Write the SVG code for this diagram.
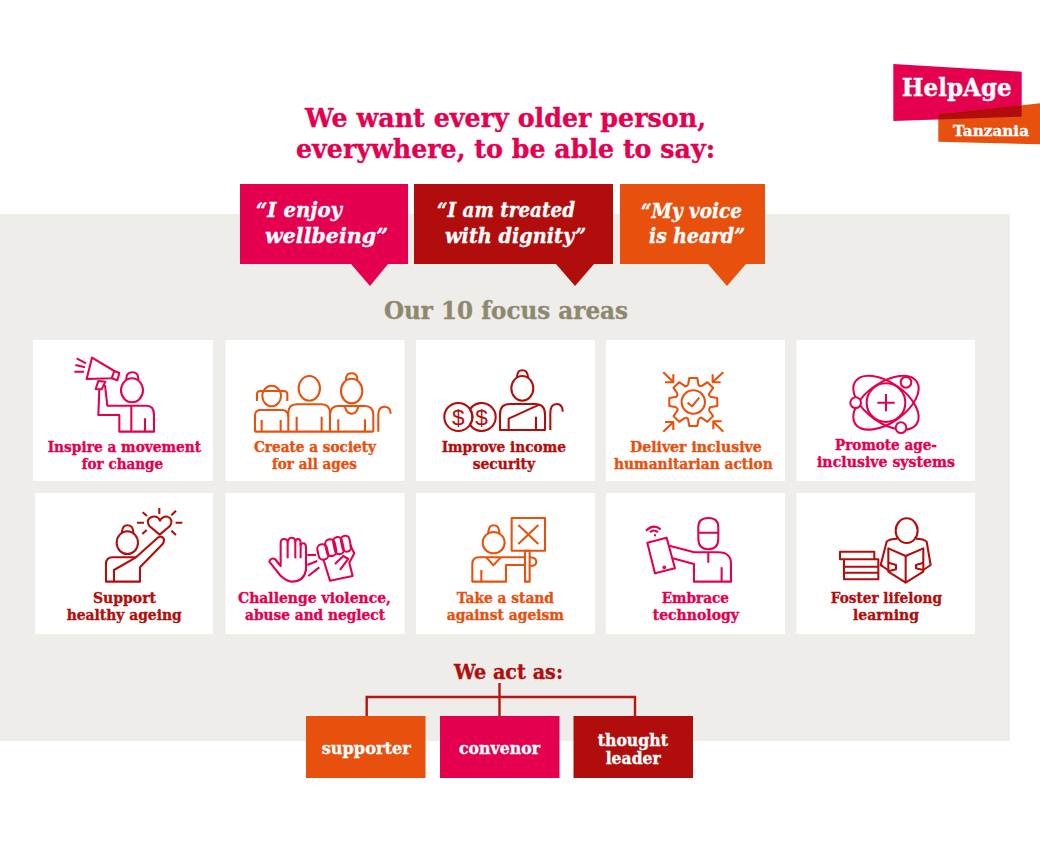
<svg xmlns="http://www.w3.org/2000/svg" xmlns:xlink="http://www.w3.org/1999/xlink" width="1040" height="844" viewBox="0 0 1040 844">
<style>
text{font-family:"DejaVu Serif","Liberation Serif",serif;font-weight:700;stroke-width:.35}
.crim{fill:#e4004f}.red{fill:#b20d0d}.org{fill:#e8500e}.wht{fill:#fff}
text.crim{stroke:#e4004f}text.red{stroke:#b20d0d}text.org{stroke:#e8500e}text.wht,text.it,text.box{stroke:#fff}
.card{fill:#fff}
.lab{font-size:15px}
.it{font-style:italic;font-size:21px;fill:#fff}
.ic{fill:none;stroke-width:6.2;stroke-linejoin:round;stroke-linecap:butt}
.sc{stroke:#e4004f}.sr{stroke:#b20d0d}.so{stroke:#e8500e}
.box{font-size:16.5px;fill:#fff}
text.dollar{font-family:"Liberation Sans",sans-serif;font-weight:400;font-size:68px;fill:#b20d0d;stroke:none}
</style>
<defs>
<path id="gt" d="M-16,-50 L-12,-72 H12 L16,-50 L24,-46.7"/>
</defs>
<rect width="1040" height="844" fill="#fff"/>
<rect id="panel" x="0" y="214" width="1010" height="527" fill="#eeede9"/>

<g id="logo">
<polygon class="crim" points="893.3,64 1021.7,71.7 1021.7,116.7 893.3,121"/>
<polygon class="org" points="938.3,114.3 1040,103.3 1040,144.3 938.3,141.7"/>
<polygon class="red" points="938.3,114.3 1021.7,105.2 1021.7,116.7 938.3,119.5"/>
<text class="wht" x="901.7" y="96" font-size="25" textLength="110" lengthAdjust="spacingAndGlyphs">HelpAge</text>
<text class="wht" x="953" y="136" font-size="15" textLength="76" lengthAdjust="spacingAndGlyphs">Tanzania</text>
</g>

<g id="heading">
<text class="crim" x="305" y="127" font-size="26" textLength="401" lengthAdjust="spacingAndGlyphs">We want every older person,</text>
<text class="crim" x="296" y="158" font-size="26" textLength="419" lengthAdjust="spacingAndGlyphs">everywhere, to be able to say:</text>
</g>

<g id="quote-wellbeing">
<path class="crim" d="M240,184 H408 V264 H388 L370,286 L351,264 H240 Z"/>
<text class="it" x="256" y="217" textLength="86" lengthAdjust="spacingAndGlyphs">“I enjoy</text>
<text class="it" x="265" y="243" textLength="123" lengthAdjust="spacingAndGlyphs">wellbeing”</text>
</g>
<g id="quote-dignity">
<path class="red" d="M414,184 H613 V264 H594 L575,286 L556,264 H414 Z"/>
<text class="it" x="437" y="217" textLength="138" lengthAdjust="spacingAndGlyphs">“I am treated</text>
<text class="it" x="445" y="243" textLength="141" lengthAdjust="spacingAndGlyphs">with dignity”</text>
</g>
<g id="quote-voice">
<path class="org" d="M620,184 H765 V264 H746 L727,286 L708,264 H620 Z"/>
<text class="it" x="641" y="218" textLength="101" lengthAdjust="spacingAndGlyphs">“My voice</text>
<text class="it" x="649" y="243" textLength="96" lengthAdjust="spacingAndGlyphs">is heard”</text>
</g>

<text id="focus-title" x="384" y="319" font-size="25" fill="#8f8870" stroke="#8f8870" textLength="244" lengthAdjust="spacingAndGlyphs">Our 10 focus areas</text>

<g id="card-movement">
<rect class="card" x="33" y="340" width="180" height="141"/>
<g class="ic sc" transform="translate(30,335) scale(.3333)">
<path d="M186,68 L170,132 L245,130 L253,108 Z"/>
<path d="M253,108 L268,114 L262,136 L245,130"/>
<path d="M205,138 L226,140 L215,163 L197,162 Z"/>
<path d="M140,70 L168,85 M136,90 L165,97 M133,110 L162,110"/>
<path d="M208,163 L205,240 H268 V290 H372 V240 Q372,212 350,212 H232 L225,150"/>
<path d="M304,212 V290 M345,250 V290"/>
<ellipse cx="306" cy="166" rx="33" ry="36"/>
<path d="M289,136 V130 Q290,112 307,112 Q324,112 325,130 V136"/>
</g>
<text class="lab crim" x="47.7" y="452" textLength="153.5" lengthAdjust="spacingAndGlyphs">Inspire a movement</text>
<text class="lab crim" x="81.7" y="469" textLength="81.5" lengthAdjust="spacingAndGlyphs">for change</text>
</g>

<g id="card-society">
<rect class="card" x="225.500" y="340" width="179" height="141"/>
<g class="ic so" transform="translate(30,335) scale(.3333)">
<ellipse cx="725" cy="183" rx="28" ry="31"/>
<path d="M681,198 V178 Q681,168 692,168 H760 Q772,168 772,178 V198"/>
<path d="M675,290 V242 Q675,225 692,225 H755 Q775,225 775,245"/>
<ellipse cx="838" cy="160" rx="32" ry="37"/>
<path d="M775,290 V235 Q775,208 800,208 H875 Q900,208 900,235 V290"/>
<ellipse cx="965" cy="168" rx="32" ry="37"/>
<path d="M948,136 V130 Q950,115 965,115 Q980,115 982,130 V136"/>
<path d="M900,238 Q902,213 925,213 H1005 Q1030,213 1030,240 V290"/>
<path d="M675,290 H1030"/>
<path d="M695,255 V290 M752,255 V290 M800,245 V290 M875,245 V290 M925,253 V290 M1005,253 V290"/>
<path d="M945,215 Q950,236 965,236 Q980,236 985,215"/>
<path d="M1045,290 V240 Q1045,215 1063,215 Q1082,215 1082,236"/>
</g>
<text class="lab org" x="254" y="452" textLength="122" lengthAdjust="spacingAndGlyphs">Create a society</text>
<text class="lab org" x="272" y="469" textLength="85" lengthAdjust="spacingAndGlyphs">for all ages</text>
</g>

<g id="card-income">
<rect class="card" x="416" y="340" width="179" height="141"/>
<g class="ic sr" transform="translate(410,335) scale(.3333)">
<circle cx="145" cy="246" r="42"/>
<path d="M180,223 A42,42 0 1 1 180,269 A42,42 0 0 0 180,223 Z"/>
<ellipse cx="337" cy="160" rx="33" ry="37"/>
<path d="M321,127 V125 Q322,106 337,106 Q352,106 354,125 V127"/>
<path d="M270,285 V238 Q270,207 300,207 H375 Q405,207 405,238 V285 Z"/>
<path d="M296,285 V251 L388,209 M378,245 V285"/>
<path d="M421,285 V235 Q421,207 440,207 Q458,207 458,230"/>
</g>
<g transform="translate(410,335) scale(.3333)">
<text class="dollar" x="126" y="270">$</text>
<text class="dollar" x="196" y="270">$</text>
</g>
<text class="lab red" x="441.700" y="452" textLength="124.300" lengthAdjust="spacingAndGlyphs">Improve income</text>
<text class="lab red" x="472.700" y="469" textLength="62.300" lengthAdjust="spacingAndGlyphs">security</text>
</g>

<g id="card-humanitarian">
<rect class="card" x="606" y="340" width="179" height="141"/>
<g class="ic so" transform="translate(410,335) scale(.3333)">
<g transform="translate(850,201)">
<use xlink:href="#gt"/><use xlink:href="#gt" transform="rotate(45)"/><use xlink:href="#gt" transform="rotate(90)"/><use xlink:href="#gt" transform="rotate(135)"/><use xlink:href="#gt" transform="rotate(180)"/><use xlink:href="#gt" transform="rotate(225)"/><use xlink:href="#gt" transform="rotate(270)"/><use xlink:href="#gt" transform="rotate(315)"/>
</g>
<circle cx="850" cy="201" r="35"/>
<path d="M833,203 L846,214 L868,188"/>
<path d="M760,112 L790,141 M790,118 V142 H765"/>
<path d="M940,112 L908,141 M908,118 V142 H932"/>
<path d="M760,290 L790,261 M765,261 H790 V285"/>
<path d="M940,290 L910,260 M910,283 V259 H935"/>
</g>
<text class="lab org" x="630" y="452" textLength="131.700" lengthAdjust="spacingAndGlyphs">Deliver inclusive</text>
<text class="lab org" x="614" y="469" textLength="158.700" lengthAdjust="spacingAndGlyphs">humanitarian action</text>
</g>

<g id="card-systems">
<rect class="card" x="796.500" y="340" width="178.500" height="141"/>
<g class="ic sc" transform="translate(790,335) scale(.3333)">
<circle cx="288" cy="203" r="58"/>
<path d="M262,203 H314 M288,177 V229"/>
<ellipse cx="288" cy="203" rx="112" ry="60" transform="rotate(35 288 203)"/>
<ellipse cx="288" cy="203" rx="112" ry="60" transform="rotate(-35 288 203)"/>
<circle cx="197" cy="203" r="16" fill="#fff"/>
<circle cx="348" cy="142" r="16" fill="#fff"/>
<circle cx="333" cy="278" r="16" fill="#fff"/>
</g>
<text class="lab crim" x="835" y="450" textLength="102" lengthAdjust="spacingAndGlyphs">Promote age-</text>
<text class="lab crim" x="817" y="467" textLength="138" lengthAdjust="spacingAndGlyphs">inclusive systems</text>
</g>

<g id="card-healthy">
<rect class="card" x="35" y="493" width="178" height="141"/>
<g class="ic sr" transform="translate(30,490) scale(.3333)">
<ellipse cx="292" cy="158" rx="32" ry="34"/>
<path d="M276,128 V125 Q278,106 292,106 Q308,106 310,125 V128"/>
<path d="M228,275 V222 Q228,202 248,202 H318 L385,142 Q396,136 402,148 Q403,158 395,165 L330,232 V275 Z"/>
<path d="M252,275 V240 L318,202"/>
<path d="M389,134 L358,108 Q346,85 368,80 Q385,78 390,92 Q398,78 412,80 Q432,88 420,108 Z"/>
<path d="M388,54 V72 M338,67 L351,78 M438,62 L424,76 M321,98 H342 M437,98 H457 M337,132 L350,120 M424,122 L438,135"/>
</g>
<text class="lab red" x="93" y="603" textLength="63" lengthAdjust="spacingAndGlyphs">Support</text>
<text class="lab red" x="66.700" y="620" textLength="115" lengthAdjust="spacingAndGlyphs">healthy ageing</text>
</g>

<g id="card-violence">
<rect class="card" x="225.500" y="493" width="179" height="141"/>
<g class="ic sc" transform="translate(30,490) scale(.3333)">
<path d="M718,215 Q722,202 735,207 L752,228 V160 Q752,147 762,147 Q773,147 773,158 Q775,143 785,143 Q795,143 796,155 Q798,147 804,147 Q812,147 812,160 V165 Q816,158 822,160 Q828,162 828,172 V240 Q822,275 785,275 Q765,272 750,255 Z"/>
<path d="M773,158 V205 M796,155 V205 M812,160 V205"/>
<path d="M832,195 H858 M832,225 L862,213 M835,258 L868,232"/>
<rect x="864" y="163" width="29" height="46" rx="13" transform="rotate(-12 878 186)"/>
<rect x="888" y="148" width="29" height="50" rx="13" transform="rotate(-12 902 173)"/>
<rect x="912" y="141" width="27" height="52" rx="13" transform="rotate(-12 925 167)"/>
<rect x="935" y="137" width="26" height="48" rx="12" transform="rotate(-12 948 161)"/>
<path d="M880,207 L900,272 L968,258 L958,218 L973,190 L960,165"/>
<path d="M915,222 L940,198 L955,207 L930,240"/>
</g>
<text class="lab crim" x="238" y="603" textLength="153" lengthAdjust="spacingAndGlyphs">Challenge violence,</text>
<text class="lab crim" x="245" y="620" textLength="140" lengthAdjust="spacingAndGlyphs">abuse and neglect</text>
</g>

<g id="card-ageism">
<rect class="card" x="416" y="493" width="179" height="141"/>
<g class="ic so" transform="translate(410,490) scale(.3333)">
<ellipse cx="251" cy="158" rx="33" ry="32"/>
<path d="M235,130 V125 Q237,106 251,106 Q266,106 268,125 V130"/>
<path d="M345,225 H288 V275 H187 V222 Q187,202 207,202 H345"/>
<path d="M214,240 V275"/>
<path d="M230,203 L250,226 L272,203"/>
<path d="M360,202 Q379,203 379,215 Q379,228 360,228"/>
<rect x="305" y="84" width="100" height="98"/>
<path d="M325,105 L385,162 M385,105 L325,162"/>
<rect x="345" y="182" width="14" height="93"/>
</g>
<text class="lab org" x="456.700" y="603" textLength="97.300" lengthAdjust="spacingAndGlyphs">Take a stand</text>
<text class="lab org" x="446.700" y="620" textLength="117.300" lengthAdjust="spacingAndGlyphs">against ageism</text>
</g>

<g id="card-technology">
<rect class="card" x="606" y="493" width="179" height="141"/>
<g class="ic sc" transform="translate(410,490) scale(.3333)">
<path d="M712,158 L770,143 L795,235 L735,250 Z"/>
<circle cx="763" cy="232" r="2.500"/>
<path d="M708,122 Q730,100 752,118 M720,127 Q732,116 744,127 M735,133 V139"/>
<path d="M865,145 V112 Q865,84 895,84 Q925,84 925,112 V145 Q925,178 895,178 Q865,178 865,145 Z M865,128 H925"/>
<path d="M778,167 L853,187 H925 Q965,187 963,225 V275 H852 V222 L788,205"/>
<path d="M895,188 V218 M935,232 V275"/>
</g>
<text class="lab crim" x="661.700" y="603" textLength="67.300" lengthAdjust="spacingAndGlyphs">Embrace</text>
<text class="lab crim" x="652.700" y="620" textLength="86.300" lengthAdjust="spacingAndGlyphs">technology</text>
</g>

<g id="card-learning">
<rect class="card" x="796.500" y="493" width="178.500" height="141"/>
<g class="ic sr" transform="translate(790,490) scale(.3333)">
<ellipse cx="350" cy="122" rx="33" ry="37"/>
<path d="M278,228 L272,225 L290,155 Q298,146 322,146 M378,146 Q402,146 410,155 L422,225 L400,240 L378,235 L378,225 L400,218"/>
<path d="M272,225 L298,243 L318,238 L318,225 L296,218"/>
<path d="M295,175 L347,198 L400,175 V245 L347,278 L295,245 Z M347,198 V278"/>
<rect x="150" y="185" width="103" height="23"/>
<path d="M253,208 H265 V268 H162 V208 M162,230 H265 M162,248 H265"/>
</g>
<text class="lab red" x="830.700" y="603" textLength="111.300" lengthAdjust="spacingAndGlyphs">Foster lifelong</text>
<text class="lab red" x="853" y="620" textLength="66" lengthAdjust="spacingAndGlyphs">learning</text>
</g>

<text id="act-title" class="red" x="454" y="679" font-size="21" textLength="109" lengthAdjust="spacingAndGlyphs">We act as:</text>

<g id="connectors" fill="none" stroke="#b91414" stroke-width="2.400">
<path d="M499.500,683 V716"/>
<path d="M366.700,716 V697 H635 V716"/>
</g>

<g id="role-supporter">
<rect class="org" x="306" y="716" width="119.500" height="62"/>
<text class="box" x="321.700" y="754" textLength="89" lengthAdjust="spacingAndGlyphs">supporter</text>
</g>
<g id="role-convenor">
<rect class="crim" x="440" y="716" width="119.500" height="62"/>
<text class="box" x="459" y="754" textLength="81" lengthAdjust="spacingAndGlyphs">convenor</text>
</g>
<g id="role-leader">
<rect class="red" x="573.500" y="716" width="119.500" height="62"/>
<text class="box" x="597.700" y="746" textLength="70.300" lengthAdjust="spacingAndGlyphs">thought</text>
<text class="box" x="605.700" y="764" textLength="55" lengthAdjust="spacingAndGlyphs">leader</text>
</g>
</svg>
